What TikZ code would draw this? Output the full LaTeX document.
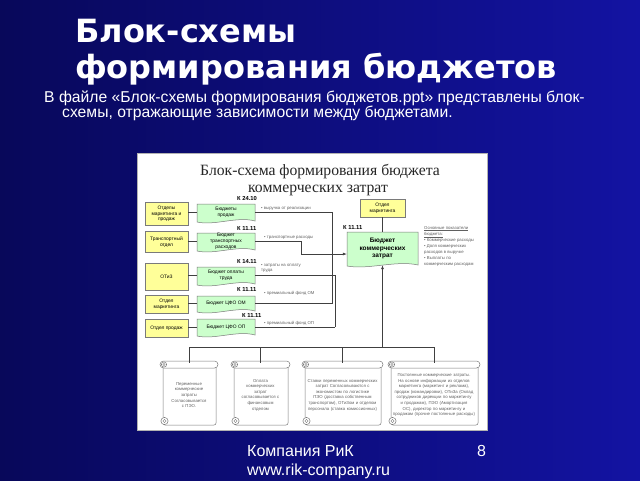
\documentclass[tikz,border=0pt]{standalone}
\usepackage{fontspec}
\setmainfont{Liberation Sans}
\newfontfamily\titlefont{DejaVu Sans}
\newfontfamily\serifru{Liberation Serif}
\usetikzlibrary{calc,arrows.meta,fadings}
\definecolor{bgA}{HTML}{08085A}
\definecolor{bgB}{HTML}{1313A2}
\definecolor{yel}{HTML}{FFFF99}
\definecolor{grn}{HTML}{CCFFCC}
\definecolor{edge}{HTML}{7A7A7A}
\definecolor{txt}{HTML}{606060}
\tikzfading[name=hfade, left color=transparent!100, middle color=transparent!0, right color=transparent!100]
\tikzfading[name=vfade, top color=transparent!100, middle color=transparent!0, bottom color=transparent!100]

% document shape: [opts] name x1 y1 x2 y2 text
\newcommand\docnode[7][]{%
  \filldraw[docshape] (#3,#4) -- (#5,#4) -- (#5,#6)
    .. controls ({#5-0.3*(#5-#3)},{#6-5}) and ({#3+0.3*(#5-#3)},{#6+5}) .. (#3,{#6+1}) -- cycle;
  \node[gtext,#1, minimum width={#5-#3}, minimum height={#6-#4}] (#2) at ({(#3+#5)/2},{(#4+#6)/2}) {#7};
}
% scroll shape: name x1 y1 x2 y2 textwidth text
\newcommand\scrollnode[7]{%
  \filldraw[scrollst, rounded corners=2pt] ({#2+3},{#3+4}) rectangle ({#4-2},#5);
  \filldraw[scrollst, rounded corners=3.5pt] (#2,#3) rectangle (#4,{#3+7});
  \draw[scrollst] ({#2+4},{#3+3.5}) circle (2.6);
  \draw[edge, line width=0.4pt] ({#2+4},{#3+3.5}) circle (1.2);
  \filldraw[scrollst] ({#2+4.5},{#5-4}) circle (3.6);
  \draw[edge, line width=0.4pt] ({#2+4.5},{#5-4}) circle (1.6);
  \node[scrolltext, text width=#6, minimum width={#4-#2}, minimum height={#5-#3}] (#1) at ({(#2+#4)/2},{(#3+#5)/2+2}) {#7};
}

\begin{document}
\begin{tikzpicture}[x=1pt,y=-1pt,
  ybox/.style={draw=edge, fill=yel, line width=0.5pt, inner sep=0pt, align=center, font=\fontsize{4.9}{5.7}\selectfont},
  gtext/.style={inner sep=0pt, align=center, font=\fontsize{4.9}{5.7}\selectfont},
  docshape/.style={draw=edge, fill=grn, line width=0.5pt},
  klabel/.style={font=\bfseries\fontsize{5.8}{6}\selectfont, inner sep=0pt, anchor=base west},
  note/.style={text=txt, font=\fontsize{4.3}{5.4}\selectfont, inner sep=0pt, align=left, anchor=west},
  wire/.style={draw=black!75, line width=0.6pt},
  scrollst/.style={draw=edge, fill=white, line width=0.5pt},
  scrolltext/.style={text=txt, font=\fontsize{4.3}{5.6}\selectfont, inner sep=0pt, align=center},
  slidetext/.style={text=white, inner sep=0pt, anchor=base west},
]
\useasboundingbox (0,0) rectangle (640,480);
% slide background
\shade[left color=bgA, right color=bgB] (0,0) rectangle (640,480);
% lens flare
\fill[white, opacity=0.35, path fading=hfade] (0,126) rectangle (125,134);
\fill[white, path fading=hfade] (0,129.2) rectangle (118,131);
\fill[white, opacity=0.35, path fading=vfade] (58.5,92) rectangle (65.5,170);
\fill[white, path fading=vfade] (61.2,96) rectangle (62.8,166);

% slide title
\node[slidetext, font=\titlefont\bfseries\fontsize{32}{36}\selectfont] (title1) at (75,42) {Блок-схемы};
\node[slidetext, font=\titlefont\bfseries\fontsize{32}{36}\selectfont] (title2) at (75,78) {формирования бюджетов};
\node[slidetext, font=\fontsize{15.7}{17}\selectfont] (sub1) at (44,102) {В файле «Блок-схемы формирования бюджетов.ppt» представлены блок-};
\node[slidetext, font=\fontsize{15.7}{17}\selectfont] (sub2) at (62,117) {схемы, отражающие зависимости между бюджетами.};

% embedded diagram panel
\filldraw[draw=gray!60, fill=white, line width=0.5pt] (137,153) rectangle (487,430);
\node[inner sep=0pt, anchor=base, font=\serifru\fontsize{15.7}{17}\selectfont, text=black!85] (dt1) at (320,175) {Блок-схема формирования бюджета};
\node[inner sep=0pt, anchor=base, font=\serifru\fontsize{15.7}{17}\selectfont, text=black!85] (dt2) at (318,192) {коммерческих затрат};

% source departments
\node[ybox, minimum width=43pt, minimum height=23pt] (y1) at (166.5,214) {Отделы\\маркетинга и\\продаж};
\node[ybox, minimum width=43pt, minimum height=21pt] (y2) at (166.5,242) {Транспортный\\отдел};
\node[ybox, minimum width=43pt, minimum height=27pt] (y3) at (166.5,276.5) {ОТиЗ};
\node[ybox, minimum width=43pt, minimum height=18pt] (y4) at (166.5,304) {Отдел\\маркетинга};
\node[ybox, minimum width=43pt, minimum height=18pt] (y5) at (166.5,328) {Отдел продаж};

% budgets
\docnode{g1}{197}{204}{255}{221}{Бюджеты\\продаж}
\docnode{g2}{197}{233}{255}{250}{Бюджет\\транспортных\\расходов}
\docnode{g3}{197}{267}{255}{284}{Бюджет оплаты\\труда}
\docnode{g4}{197}{296}{255}{311}{Бюджет ЦФО ОМ}
\docnode{g5}{197}{319}{255}{335}{Бюджет ЦФО ОП}
\docnode[font=\bfseries\fontsize{6.5}{7.6}\selectfont]{main}{347}{232}{418}{265}{Бюджет\\коммерческих\\затрат}
\node[ybox, minimum width=45pt, minimum height=18pt] (ym) at (382.5,208) {Отдел\\маркетинга};

% K labels
\node[klabel] (k1) at (237,200) {К 24.10};
\node[klabel] (k2) at (237,230) {К 11.11};
\node[klabel] (k3) at (237,263) {К 14.11};
\node[klabel] (k4) at (237,291) {К 11.11};
\node[klabel] (k5) at (242,317) {К 11.11};
\node[klabel] (k6) at (343,229) {К 11.11};

% connectors department -> budget
\foreach \i in {1,...,5} {\draw[wire] (y\i.east |- g\i.west) -- (g\i.west);}
\draw[wire] (ym.south) -- (main.north);

% bus lines
\coordinate (bA) at (332,303.5);
\coordinate (bB) at (335,327);
\coordinate (t1) at (301,254);
\draw[wire] (g1.east) -| (bA);
\draw[wire] (g4.east) -- (g4.east -| bA);
\draw[wire] (g3.east) -| (bB);
\draw[wire] (g5.east) -- (g5.east -| bB);
\draw[wire, -{Latex[length=4pt,width=3pt]}] (g2.east) -| (t1) -- (t1 -| main.west);

% flow notes
\node[note] (n1) at (261,209) {• выручка от реализации};
\node[note] (n2) at (264,238) {• транспортные расходы};
\node[note] (n3) at (261,268) {• затраты на оплату\\труда};
\node[note] (n4) at (264,293) {• премиальный фонд ОМ};
\node[note] (n5) at (264,323) {• премиальный фонд ОП};
\node[note, font=\fontsize{4.3}{6}\selectfont] (ind) at (424,246) {\underline{Основные показатели}\\\underline{бюджета:}\\• Коммерческие расходы\\• Доля коммерческих\\расходов в выручке\\• Выплаты по\\коммерческим расходам};

% agreements (scrolls)
\scrollnode{s1}{160}{361}{218}{425}{50pt}{Переменные\\коммерческие\\затраты\\Согласовывается\\с ПЭО.}
\scrollnode{s2}{231}{361}{290}{425}{52pt}{Оплата\\коммерческих\\затрат\\согласовывается с\\финансовым\\отделом}
\scrollnode{s3}{302}{361}{383}{425}{72pt}{Ставки переменных коммерческих затрат Согласовываются с экономистом по логистике ПЭО (доставка собственным транспортом), ОТиЗом и отделом персонала (ставка комиссионных)}
\scrollnode{s4}{388}{361}{480}{425}{86pt}{Постоянные коммерческие затраты. На основе информации из отделов маркетинга (маркетинг и реклама), продаж (командировки), ОТиЗа (Оклад сотрудников дирекции по маркетингу и продажам), ПЭО (Амортизация ОС), директор по маркетингу и продажам (прочие постоянные расходы)}

% tree to scrolls and arrow up
\coordinate (tr) at (382.5,347);
\draw[wire, -{Latex[length=4pt,width=3pt]}] (tr) -- (main.south);
\draw[wire] (s1.north |- tr) -- (s4.north |- tr);
\foreach \s in {s1,s2,s3,s4} {\draw[wire] (\s.north |- tr) -- (\s.north);}

% footer
\node[slidetext, font=\fontsize{16}{18}\selectfont] (f1) at (247,456) {Компания РиК};
\node[slidetext, font=\fontsize{16}{18}\selectfont] (f2) at (247,475) {www.rik-company.ru};
\node[slidetext, font=\fontsize{16}{18}\selectfont] (pg) at (477,456) {8};
\end{tikzpicture}
\end{document}
